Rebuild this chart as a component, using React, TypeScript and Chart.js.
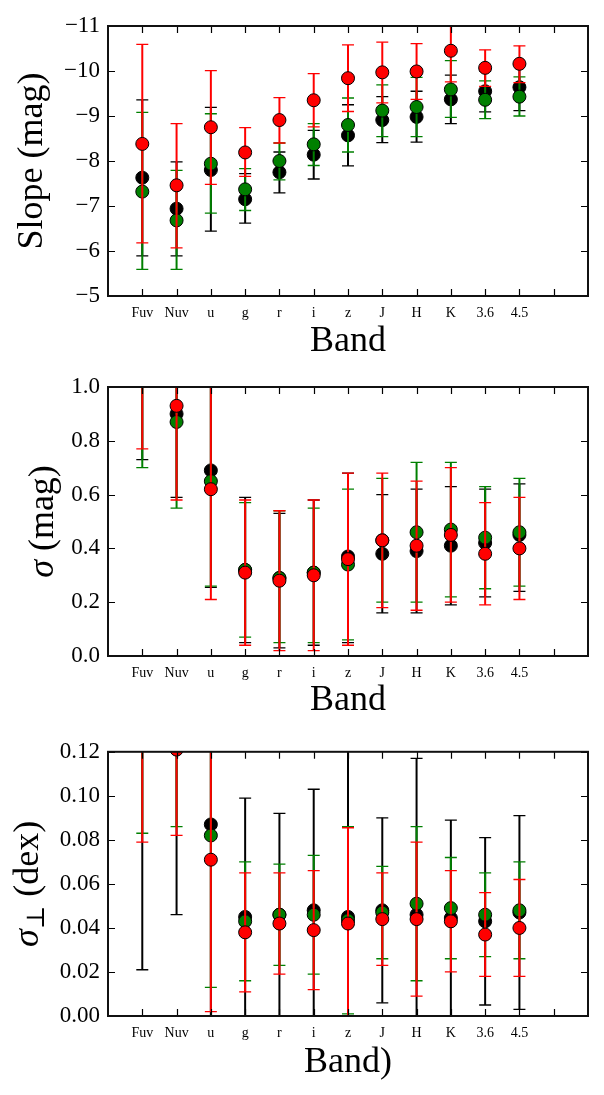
import React, { useEffect, useRef } from 'react';
import { Chart, registerables } from 'chart.js';

Chart.register(...registerables);

// ---- categories and tick positions ----
const bands = ['Fuv', 'Nuv', 'u', 'g', 'r', 'i', 'z', 'J', 'H', 'K', '3.6', '4.5'];
const xTickMarks = [1, 2, 3, 4, 5, 6, 7, 8, 9, 10, 11, 12, 13];

// ---- Slope (mag) ----
const slopeTicks = [-11, -10, -9, -8, -7, -6, -5];
const slopeBlack = [-7.63, -6.94, -7.8, -7.15, -7.75, -8.14, -8.57, -8.91, -8.98, -9.37, -9.55, -9.64];
const slopeBlackLo = [-5.89, -5.89, -6.44, -6.62, -7.29, -7.6, -7.89, -8.41, -8.42, -8.83, -9.09, -9.12];
const slopeBlackHi = [-9.36, -7.98, -9.19, -7.72, -8.2, -8.68, -9.25, -9.43, -9.55, -9.91, -10.0, -10.15];
const slopeGreen = [-7.32, -6.68, -7.94, -7.37, -8.0, -8.37, -8.8, -9.12, -9.2, -9.59, -9.36, -9.43];
const slopeGreenLo = [-5.59, -5.59, -6.84, -6.9, -7.58, -7.9, -8.2, -8.54, -8.54, -8.97, -8.94, -9.0];
const slopeGreenHi = [-9.08, -7.79, -9.05, -7.83, -8.4, -8.83, -9.4, -9.69, -9.86, -10.23, -9.78, -9.87];
const slopeRed = [-8.38, -7.46, -8.75, -8.19, -8.91, -9.35, -9.84, -9.97, -9.99, -10.45, -10.07, -10.16];
const slopeRedLo = [-6.18, -6.07, -7.48, -7.66, -8.4, -8.76, -9.1, -9.29, -9.37, -9.76, -9.66, -9.74];
const slopeRedHi = [-10.59, -8.83, -10.01, -8.74, -9.41, -9.94, -10.58, -10.64, -10.61, -11.14, -10.47, -10.56];

// ---- sigma (mag) ----
const sigmaTicks = [0, 0.2, 0.4, 0.6, 0.8, 1.0];
const sigmaBlack = [1.2, 0.9, 0.69, 0.32, 0.29, 0.31, 0.37, 0.38, 0.39, 0.41, 0.42, 0.45];
const sigmaBlackLo = [0.73, 0.59, 0.255, 0.05, 0.03, 0.04, 0.05, 0.16, 0.16, 0.19, 0.22, 0.24];
const sigmaBlackHi = [1.67, 1.21, 1.11, 0.59, 0.53, 0.58, 0.68, 0.6, 0.62, 0.63, 0.62, 0.64];
const sigmaGreen = [1.17, 0.87, 0.65, 0.32, 0.29, 0.31, 0.34, 0.43, 0.46, 0.47, 0.44, 0.46];
const sigmaGreenLo = [0.7, 0.55, 0.26, 0.07, 0.05, 0.05, 0.06, 0.2, 0.2, 0.22, 0.25, 0.26];
const sigmaGreenHi = [1.64, 1.19, 1.04, 0.57, 0.54, 0.55, 0.62, 0.66, 0.72, 0.72, 0.63, 0.66];
const sigmaRed = [1.25, 0.93, 0.62, 0.31, 0.28, 0.3, 0.36, 0.43, 0.41, 0.45, 0.38, 0.4];
const sigmaRedLo = [0.77, 0.58, 0.21, 0.04, 0.02, 0.02, 0.04, 0.18, 0.17, 0.2, 0.19, 0.21];
const sigmaRedHi = [1.73, 1.28, 1.03, 0.58, 0.54, 0.58, 0.68, 0.68, 0.65, 0.7, 0.57, 0.59];

// ---- perpendicular sigma (dex) ----
const perpTicks = [0, 0.02, 0.04, 0.06, 0.08, 0.1, 0.12];
const perpBlack = [0.15, 0.13, 0.087, 0.045, 0.046, 0.048, 0.045, 0.048, 0.046, 0.0445, 0.043, 0.047];
const perpBlackLo = [0.021, 0.046, -0.01, -0.009, 0.0, -0.007, -0.06, 0.006, -0.025, 0.0, 0.005, 0.003];
const perpBlackHi = [0.279, 0.214, 0.184, 0.099, 0.092, 0.103, 0.15, 0.09, 0.117, 0.089, 0.081, 0.091];
const perpGreen = [0.15, 0.13, 0.082, 0.043, 0.046, 0.046, 0.0435, 0.047, 0.051, 0.049, 0.046, 0.048];
const perpGreenLo = [0.083, 0.086, 0.013, 0.016, 0.023, 0.019, 0.001, 0.026, 0.016, 0.026, 0.027, 0.026];
const perpGreenHi = [0.217, 0.174, 0.151, 0.07, 0.069, 0.073, 0.086, 0.068, 0.086, 0.072, 0.065, 0.07];
const perpRed = [0.16, 0.121, 0.071, 0.038, 0.042, 0.039, 0.042, 0.044, 0.044, 0.043, 0.037, 0.04];
const perpRedLo = [0.079, 0.082, 0.002, 0.011, 0.019, 0.012, -0.002, 0.023, 0.009, 0.02, 0.018, 0.018];
const perpRedHi = [0.241, 0.16, 0.14, 0.065, 0.065, 0.066, 0.0855, 0.065, 0.079, 0.066, 0.056, 0.062];

const BLACK = '#000000';
const GREEN = '#008000';
const RED = '#ff0000';
const SERIF = "'Liberation Serif', 'DejaVu Serif', serif";

type Seg = { t: string; italic?: boolean; scale?: number; drop?: number };

// Vertical error bars with caps, drawn just beneath each dataset's markers
const errorBarPlugin = {
  id: 'errorBars',
  beforeDatasetDraw(chart: any, args: any) {
    const ds = chart.data.datasets[args.index];
    if (!ds.errLo) return;
    const { ctx, chartArea: a } = chart;
    const xs = chart.scales.x;
    const ys = chart.scales.y;
    ctx.save();
    ctx.beginPath();
    ctx.rect(a.left, a.top, a.right - a.left, a.bottom - a.top);
    ctx.clip();
    ctx.strokeStyle = ds.errColor;
    ds.data.forEach((p: any, i: number) => {
      const x = xs.getPixelForValue(p.x);
      const y1 = ys.getPixelForValue(ds.errLo[i]);
      const y2 = ys.getPixelForValue(ds.errHi[i]);
      ctx.lineWidth = 2;
      ctx.beginPath();
      ctx.moveTo(x, y1);
      ctx.lineTo(x, y2);
      ctx.stroke();
      ctx.lineWidth = 1.3;
      ctx.beginPath();
      ctx.moveTo(x - 6, y1);
      ctx.lineTo(x + 6, y1);
      ctx.moveTo(x - 6, y2);
      ctx.lineTo(x + 6, y2);
      ctx.stroke();
    });
    ctx.restore();
  },
};

// Boxed frame with inward tick marks on all four sides
function makeFramePlugin(yTicks: number[]) {
  return {
    id: 'frameTicks',
    afterDatasetsDraw(chart: any) {
      const { ctx, chartArea: a } = chart;
      const xs = chart.scales.x;
      const ys = chart.scales.y;
      const len = 7;
      ctx.save();
      ctx.strokeStyle = '#000';
      ctx.lineWidth = 1.2;
      ctx.beginPath();
      xTickMarks.forEach((v) => {
        const x = Math.round(xs.getPixelForValue(v)) + 0.5;
        ctx.moveTo(x, a.top);
        ctx.lineTo(x, a.top + len);
        ctx.moveTo(x, a.bottom);
        ctx.lineTo(x, a.bottom - len);
      });
      yTicks.forEach((v) => {
        const y = Math.round(ys.getPixelForValue(v)) + 0.5;
        ctx.moveTo(a.left, y);
        ctx.lineTo(a.left + len, y);
        ctx.moveTo(a.right, y);
        ctx.lineTo(a.right - len, y);
      });
      ctx.stroke();
      ctx.strokeStyle = '#111';
      ctx.lineWidth = 2;
      ctx.strokeRect(a.left, a.top, a.right - a.left, a.bottom - a.top);
      ctx.restore();
    },
  };
}

// Rotated y-axis title, built from styled pieces (italic sigma, subscript)
function makeYTitlePlugin(segs: Seg[], baselineX: number, size: number) {
  return {
    id: 'yTitle',
    afterDraw(chart: any) {
      const { ctx, chartArea: a } = chart;
      const fontFor = (s: Seg) =>
        `${s.italic ? 'italic ' : ''}${Math.round(size * (s.scale ?? 1))}px ${SERIF}`;
      ctx.save();
      let total = 0;
      const widths = segs.map((s) => {
        ctx.font = fontFor(s);
        const w = ctx.measureText(s.t).width;
        total += w;
        return w;
      });
      ctx.translate(baselineX, (a.top + a.bottom) / 2);
      ctx.rotate(-Math.PI / 2);
      ctx.fillStyle = '#000';
      ctx.textBaseline = 'alphabetic';
      ctx.textAlign = 'left';
      let x = -total / 2;
      segs.forEach((s, i) => {
        ctx.font = fontFor(s);
        ctx.fillText(s.t, x, (s.drop ?? 0) * size);
        x += widths[i];
      });
      ctx.restore();
    },
  };
}

type PanelSpec = {
  height: number;
  padTop: number;
  xAxisHeight: number;
  xTitle: string;
  xTitlePad: number;
  yMin: number;
  yMax: number;
  reverse: boolean;
  yTicks: number[];
  fmt: (v: number) => string;
  yTitle: Seg[];
  yTitleX: number;
  series: { color: string; values: number[]; lo: number[]; hi: number[] }[];
};

function Panel({ spec }: { spec: PanelSpec }) {
  const ref = useRef<HTMLCanvasElement>(null);
  useEffect(() => {
    if (!ref.current) return;
    const n = spec.series.length;
    const datasets = spec.series.map((s, k) => ({
      label: s.color,
      data: s.values.map((v, i) => ({ x: i + 1, y: v })),
      errLo: s.lo,
      errHi: s.hi,
      errColor: s.color,
      backgroundColor: s.color,
      borderColor: '#000',
      borderWidth: 1,
      pointRadius: 6.5,
      pointHoverRadius: 6.5,
      clip: 0,
      order: n - k,
    }));
    const chart = new Chart(ref.current, {
      type: 'scatter',
      data: { datasets } as any,
      plugins: [
        errorBarPlugin,
        makeFramePlugin(spec.yTicks),
        makeYTitlePlugin(spec.yTitle, spec.yTitleX, 36),
      ],
      options: {
        animation: false,
        responsive: false,
        events: [],
        layout: { padding: { top: spec.padTop, right: 16, left: 0, bottom: 0 } },
        plugins: { legend: { display: false }, tooltip: { enabled: false } },
        scales: {
          x: {
            type: 'linear',
            min: 0,
            max: 14,
            afterBuildTicks: (s: any) => {
              s.ticks = bands.map((_, i) => ({ value: i + 1 }));
            },
            afterFit: (s: any) => {
              s.height = spec.xAxisHeight;
            },
            ticks: {
              callback: (v: any) => bands[Math.round(Number(v)) - 1] ?? '',
              autoSkip: false,
              maxRotation: 0,
              minRotation: 0,
              padding: 9,
              color: '#000',
              font: { family: SERIF, size: 14 },
            },
            grid: { display: false, drawTicks: false },
            border: { display: false },
            title: {
              display: true,
              text: spec.xTitle,
              color: '#000',
              font: { family: SERIF, size: 36 },
              padding: { top: 0, bottom: spec.xTitlePad },
            },
          },
          y: {
            type: 'linear',
            min: spec.yMin,
            max: spec.yMax,
            reverse: spec.reverse,
            afterBuildTicks: (s: any) => {
              s.ticks = spec.yTicks.map((v) => ({ value: v }));
            },
            afterFit: (s: any) => {
              s.width = 108;
            },
            ticks: {
              callback: (v: any) => spec.fmt(Number(v)),
              autoSkip: false,
              padding: 8,
              color: '#000',
              font: { family: SERIF, size: 23 },
            },
            grid: { display: false, drawTicks: false },
            border: { display: false },
          },
        },
      } as any,
    });
    return () => chart.destroy();
  }, [spec]);
  return <canvas ref={ref} width={604} height={spec.height} style={{ display: 'block' }} />;
}

const panels: PanelSpec[] = [
  {
    height: 365,
    padTop: 26,
    xAxisHeight: 69,
    xTitle: 'Band',
    xTitlePad: 2,
    yMin: -11,
    yMax: -5,
    reverse: true,
    yTicks: slopeTicks,
    fmt: (v) => String(v).replace('-', '\u2212'),
    yTitle: [{ t: 'Slope (mag)' }],
    yTitleX: 42,
    series: [
      { color: BLACK, values: slopeBlack, lo: slopeBlackLo, hi: slopeBlackHi },
      { color: GREEN, values: slopeGreen, lo: slopeGreenLo, hi: slopeGreenHi },
      { color: RED, values: slopeRed, lo: slopeRedLo, hi: slopeRedHi },
    ],
  },
  {
    height: 365,
    padTop: 22,
    xAxisHeight: 74,
    xTitle: 'Band',
    xTitlePad: 8,
    yMin: 0,
    yMax: 1.0,
    reverse: false,
    yTicks: sigmaTicks,
    fmt: (v) => v.toFixed(1),
    yTitle: [{ t: 'σ', italic: true }, { t: ' (mag)' }],
    yTitleX: 53,
    series: [
      { color: BLACK, values: sigmaBlack, lo: sigmaBlackLo, hi: sigmaBlackHi },
      { color: GREEN, values: sigmaGreen, lo: sigmaGreenLo, hi: sigmaGreenHi },
      { color: RED, values: sigmaRed, lo: sigmaRedLo, hi: sigmaRedHi },
    ],
  },
  {
    height: 365,
    padTop: 17,
    xAxisHeight: 79,
    xTitle: 'Band)',
    xTitlePad: 11,
    yMin: 0,
    yMax: 0.12,
    reverse: false,
    yTicks: perpTicks,
    fmt: (v) => v.toFixed(2),
    yTitle: [
      { t: 'σ', italic: true },
      { t: '⊥', scale: 0.7, drop: 0.18 },
      { t: ' (dex)' },
    ],
    yTitleX: 38,
    series: [
      { color: BLACK, values: perpBlack, lo: perpBlackLo, hi: perpBlackHi },
      { color: GREEN, values: perpGreen, lo: perpGreenLo, hi: perpGreenHi },
      { color: RED, values: perpRed, lo: perpRedLo, hi: perpRedHi },
    ],
  },
];

export default function App() {
  return (
    <div
      style={{
        position: 'absolute',
        left: 0,
        top: 0,
        width: 604,
        height: 1095,
        background: '#fff',
      }}
    >
      {panels.map((p, i) => (
        <Panel key={i} spec={p} />
      ))}
    </div>
  );
}
